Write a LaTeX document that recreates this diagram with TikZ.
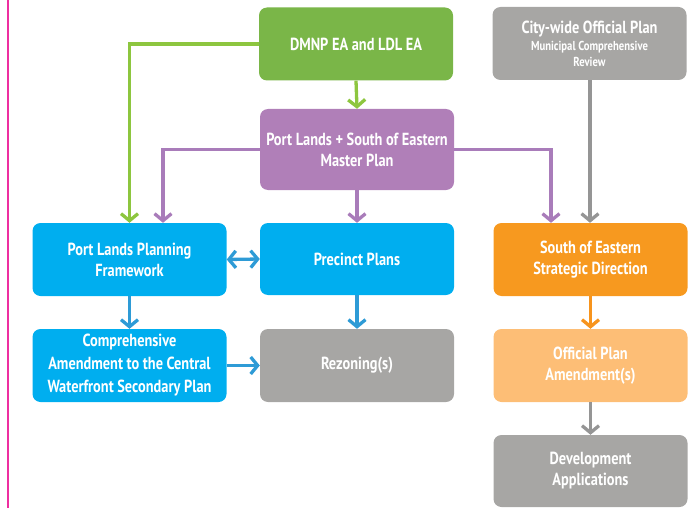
\documentclass[tikz,border=0pt]{standalone}
\usepackage{fontspec}
\setmainfont{PT Sans}[FakeStretch=0.82]
\usetikzlibrary{arrows.meta}
\definecolor{cgreen}{HTML}{7AB648}
\definecolor{agreen}{HTML}{8DC63F}
\definecolor{cpurple}{HTML}{B07FB8}
\definecolor{apurple}{HTML}{A97CBA}
\definecolor{cgray}{HTML}{A7A6A4}
\definecolor{agray}{HTML}{959595}
\definecolor{corange}{HTML}{F7991F}
\definecolor{aorange}{HTML}{F7941D}
\definecolor{clorange}{HTML}{FDBE76}
\definecolor{cblue}{HTML}{00AEEF}
\definecolor{ablue}{HTML}{2E9BD6}
\definecolor{cpink}{HTML}{EE2FA0}
\tikzset{
  box/.style={rounded corners=8pt, minimum width=194pt, minimum height=73pt,
    inner sep=2pt, text=white, align=center, font=\bfseries\fontsize{17.5}{21}\selectfont},
  conn/.style={line width=3.3pt, -{Straight Barb[length=7pt,width=17pt,line width=3.3pt]}},
  dconn/.style={line width=3.3pt, {Straight Barb[length=7pt,width=17pt,line width=3.3pt]}-{Straight Barb[length=7pt,width=17pt,line width=3.3pt]}},
}
\begin{document}
\begin{tikzpicture}[x=1pt,y=-1pt]
\useasboundingbox (0,0) rectangle (698,508);
\draw[cpink, line width=1.2pt] (8,0) -- (8,508);
\node[box, fill=cgreen] (dmnp) at (356,44) {DMNP EA and LDL EA};
\node[box, fill=cpurple, minimum height=81pt] (master) at (357,149.5) {Port Lands + South of Eastern\\Master Plan};
\node[box, fill=cgray, font=\bfseries\fontsize{17.5}{18}\selectfont] (city) at (589.5,43.5) {City-wide Official Plan\\[-1pt]{\fontsize{13}{16}\selectfont Municipal Comprehensive}\\[-2pt]{\fontsize{13}{16}\selectfont Review}};
\node[box, fill=corange] (soe) at (590.5,259.5) {South of Eastern\\Strategic Direction};
\node[box, fill=cblue] (plpf) at (129.5,259.5) {Port Lands Planning\\Framework};
\node[box, fill=cblue, minimum height=72pt] (prec) at (357,259) {Precinct Plans};
\node[box, fill=cblue, font=\bfseries\fontsize{17.5}{23}\selectfont] (comp) at (129.5,365.5) {Comprehensive\\Amendment to the Central\\Waterfront Secondary Plan};
\node[box, fill=cgray] (rez) at (357,365.5) {Rezoning(s)};
\node[box, fill=clorange] (opa) at (590.5,365.5) {Official Plan\\Amendment(s)};
\node[box, fill=cgray, minimum height=72pt] (dev) at (590.5,471) {Development\\Applications};
% connectors
\draw[conn, agreen] (dmnp.west) -| (plpf.north);
\draw[conn, agreen] (dmnp.south) -- (master.north);
\draw[conn, apurple] (master.west) -| ([xshift=33.5pt]plpf.north);
\draw[conn, apurple] (master.east) -| ([xshift=-39.5pt]soe.north);
\draw[conn, apurple] (master.south) -- (prec.north);
\draw[conn, agray] ([xshift=0.5pt]city.south) -- ([xshift=-0.5pt]soe.north);
\draw[dconn, ablue] (plpf.east) -- (prec.west);
\draw[conn, ablue] (plpf.south) -- (comp.north);
\draw[conn, ablue] (prec.south) -- (rez.north);
\draw[conn, ablue] (comp.east) -- (rez.west);
\draw[conn, aorange] (soe.south) -- (opa.north);
\draw[conn, agray] (opa.south) -- (dev.north);
\end{tikzpicture}
\end{document}
